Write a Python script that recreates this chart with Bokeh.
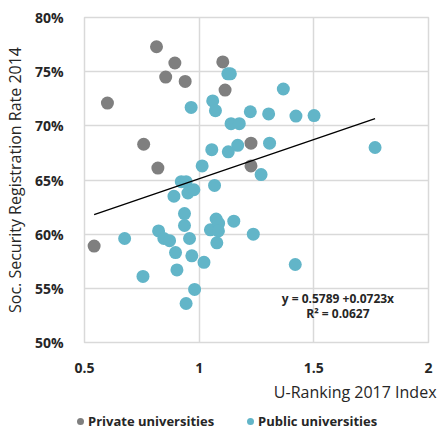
from bokeh.plotting import figure
from bokeh.layouts import column
from bokeh.models import ColumnDataSource, Label, FixedTicker, Title, Div
from bokeh.embed import file_html
from bokeh.resources import INLINE

# ---- data ----
private_x = [0.814, 0.894, 0.854, 0.939, 0.600, 1.103, 1.113, 0.758, 0.820, 0.542, 1.226, 1.226]
private_y = [0.773, 0.758, 0.745, 0.741, 0.721, 0.759, 0.733, 0.683, 0.661, 0.589, 0.684, 0.663]

public_x = [0.965, 1.059, 1.071, 1.125, 1.136, 1.139, 1.175, 1.223, 1.303, 1.367,
            1.422, 1.501, 1.767, 1.307, 1.270, 1.168, 1.127, 1.055, 1.013, 1.067,
            0.922, 0.943, 0.951, 0.977, 0.890, 0.936, 0.936, 0.823, 0.846, 0.871,
            0.958, 0.897, 0.968, 1.021, 0.903, 0.755, 0.980, 0.943, 1.049, 1.074,
            1.085, 1.084, 1.077, 1.151, 1.236, 0.675, 1.419]
public_y = [0.717, 0.723, 0.714, 0.748, 0.748, 0.702, 0.702, 0.713, 0.711, 0.734,
            0.709, 0.7095, 0.680, 0.684, 0.655, 0.682, 0.676, 0.678, 0.663, 0.645,
            0.6485, 0.6485, 0.638, 0.641, 0.635, 0.619, 0.608, 0.603, 0.596, 0.594,
            0.596, 0.583, 0.580, 0.574, 0.567, 0.561, 0.549, 0.536, 0.604, 0.614,
            0.610, 0.603, 0.592, 0.612, 0.600, 0.596, 0.572]

INTERCEPT = 0.5789
SLOPE = 0.0723
R2 = 0.0627

x_ticks = [0.5, 1, 1.5, 2]
x_tick_labels = ["0.5", "1", "1.5", "2"]
y_ticks = [0.50, 0.55, 0.60, 0.65, 0.70, 0.75, 0.80]
y_tick_labels = ["50%", "55%", "60%", "65%", "70%", "75%", "80%"]

series_names = ["Private universities", "Public universities"]
x_title = "U-Ranking 2017 Index"
y_title = "Soc. Security Registration Rate 2014"

GRAY = "#7f7f7f"
BLUE = "#62b5c8"
GRID = "#d9d9d9"
TXT = "#262626"
FONT = "Open Sans"

p = figure(width=438, height=410, x_range=(0.5, 2), y_range=(0.5, 0.8),
           output_backend="svg", toolbar_location=None,
           min_border_left=83, min_border_right=10, min_border_top=17,
           min_border_bottom=68)
p.background_fill_color = "white"
p.border_fill_color = "white"
p.outline_line_color = GRID
p.outline_line_width = 1.5

# axes
p.xaxis.ticker = FixedTicker(ticks=x_ticks)
p.yaxis.ticker = FixedTicker(ticks=y_ticks)
p.xaxis.major_label_overrides = {t: l for t, l in zip(x_ticks, x_tick_labels)}
p.yaxis.major_label_overrides = {t: l for t, l in zip(y_ticks, y_tick_labels)}
for ax in (p.xaxis[0], p.yaxis[0]):
    ax.axis_line_color = None
    ax.major_tick_line_color = None
    ax.minor_tick_line_color = None
    ax.major_label_text_font = FONT
    ax.major_label_text_font_style = "bold"
    ax.major_label_text_font_size = "14px"
    ax.major_label_text_color = TXT
    ax.axis_label_text_font = FONT
    ax.axis_label_text_font_style = "normal"
    ax.axis_label_text_font_size = "16px"
    ax.axis_label_text_color = TXT
p.xaxis.major_label_standoff = 14
p.yaxis.major_label_standoff = 15
p.yaxis.axis_label = y_title
p.yaxis.axis_label_standoff = 6

p.xgrid.ticker = FixedTicker(ticks=x_ticks)
p.ygrid.ticker = FixedTicker(ticks=y_ticks)
p.grid.grid_line_color = GRID
p.grid.grid_line_width = 1.5

# data
src_priv = ColumnDataSource(dict(x=private_x, y=private_y))
src_pub = ColumnDataSource(dict(x=public_x, y=public_y))
p.scatter("x", "y", source=src_priv, size=13, fill_color=GRAY, line_color=None)
p.scatter("x", "y", source=src_pub, size=13, fill_color=BLUE, line_color=None)

# trend line
all_x = private_x + public_x
lx = [min(all_x), max(all_x)]
ly = [INTERCEPT + SLOPE * v for v in lx]
p.line(lx, ly, line_color="black", line_width=1.3)

eq1 = "y = %.4f +%.4fx" % (INTERCEPT, SLOPE)
eq2 = "R\u00b2 = %.4f" % R2
for txt, yy in ((eq1, 0.5405), (eq2, 0.527)):
    p.add_layout(Label(x=1.605, y=yy, text=txt, text_align="center",
                       text_baseline="middle", text_font=FONT,
                       text_font_style="bold", text_font_size="12px",
                       text_color=TXT))

# x title (right aligned, below the tick labels)
xt = Title(text=x_title, align="right", text_font=FONT, text_font_style="normal",
           text_font_size="16px", text_color=TXT, standoff=6, offset=-8)
p.add_layout(xt, "below")

# legend strip below the chart
legend_left = [77, 247]
parts = []
for name, col, left in zip(series_names, [GRAY, BLUE], legend_left):
    parts.append(
        '<span style="position:absolute;left:%dpx;top:8px;width:7px;height:7px;'
        'border-radius:50%%;background:%s;"></span>' % (left, col))
    parts.append(
        '<span style="position:absolute;left:%dpx;top:0;line-height:22px;'
        'white-space:nowrap;">%s</span>' % (left + 11, name))
html = ('<div style="position:relative;width:438px;height:22px;'
        "font-family:'Open Sans';font-weight:bold;font-size:13px;color:%s;\">%s</div>"
        % (TXT, "".join(parts)))
leg = Div(text=html, width=438, height=22, margin=(0, 0, 0, 0))

open("out.html", "w").write(file_html(column(p, leg, spacing=0), INLINE))
